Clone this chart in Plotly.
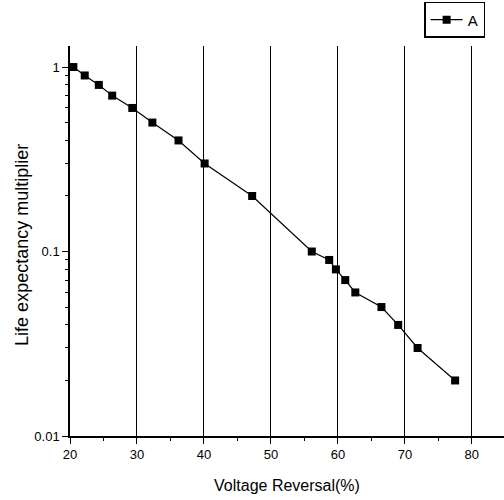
import plotly.graph_objects as go

voltage_reversal = [20.5, 22.2, 24.3, 26.3, 29.3, 32.3, 36.2, 40.1, 47.2,
                    56.1, 58.7, 59.7, 61.1, 62.6, 66.5, 69.0, 71.9, 77.5]
life_multiplier = [1.0, 0.9, 0.8, 0.7, 0.6, 0.5, 0.4, 0.3, 0.2,
                   0.1, 0.09, 0.08, 0.07, 0.06, 0.05, 0.04, 0.03, 0.02]
x_ticks = [20, 30, 40, 50, 60, 70, 80]
y_ticks = [0.01, 0.1, 1]
y_tick_labels = ["0.01", "0.1", "1"]

minor_y = [m * d for d in (0.01, 0.1, 1) for m in range(2, 10)]

fig = go.Figure()
fig.add_trace(go.Scatter(
    x=voltage_reversal, y=life_multiplier, mode="lines+markers", name="A",
    line=dict(color="black", width=1.2),
    marker=dict(symbol="square", size=8, color="black"),
))

font = "Liberation Sans, Arial, sans-serif"
fig.update_layout(
    width=504, height=500,
    margin=dict(l=70, r=0, t=46, b=64, autoexpand=False),
    plot_bgcolor="white", paper_bgcolor="white",
    font=dict(family=font, color="black", size=12),
    showlegend=True,
    legend=dict(x=0.816, y=1.113, xanchor="left", yanchor="top",
                bordercolor="black", borderwidth=1.5, bgcolor="white",
                font=dict(size=15), itemwidth=32, tracegroupgap=0),
    xaxis=dict(
        range=[20, 84.8], tickvals=x_ticks, ticktext=[str(v) for v in x_ticks],
        showgrid=True, gridcolor="black", gridwidth=1,
        showline=True, linecolor="black", linewidth=1.5,
        ticks="outside", ticklen=6, tickcolor="black",
        minor=dict(tickvals=[25, 35, 45, 55, 65, 75, 85], ticks="outside",
                   ticklen=3, tickcolor="black", showgrid=False),
        zeroline=False, automargin=False,
        title=dict(text="Voltage Reversal(%)", font=dict(size=16), standoff=18),
        tickfont=dict(size=13),
    ),
    yaxis=dict(
        type="log", range=[-2, 0.114],
        tickvals=y_ticks, ticktext=y_tick_labels,
        showgrid=False, automargin=False,
        showline=True, linecolor="black", linewidth=1.5,
        ticks="outside", ticklen=6, tickcolor="black",
        minor=dict(tickvals=minor_y, ticks="outside", ticklen=3,
                   tickcolor="black", showgrid=False),
        tickfont=dict(size=13),
    ),
    annotations=[dict(
        text="Life expectancy multiplier", textangle=-90,
        xref="paper", yref="paper", x=-0.1106, y=0.49,
        xanchor="center", yanchor="middle", showarrow=False,
        font=dict(size=18),
    )],
)

fig.write_html("out.html", config={"displayModeBar": False},
               post_script="document.body.style.margin='0';document.body.style.padding='0';")
